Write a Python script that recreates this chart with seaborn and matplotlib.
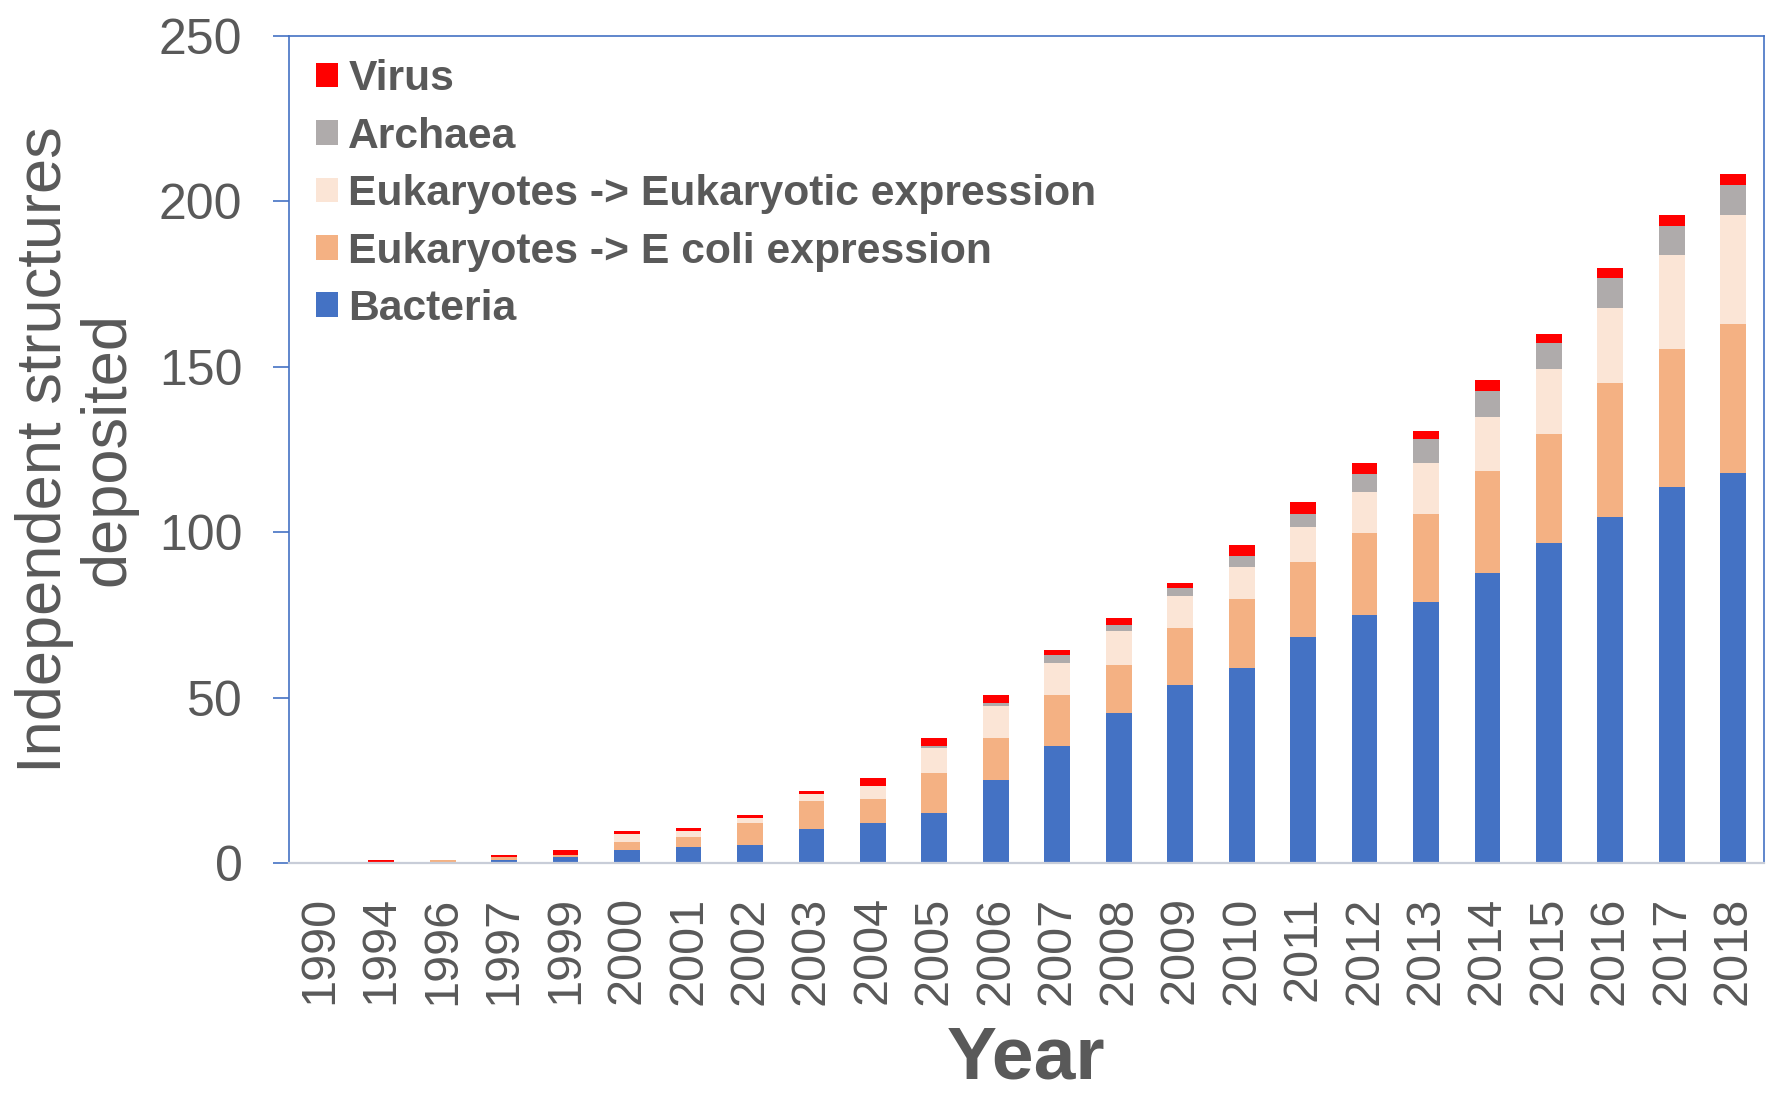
import numpy as np
import pandas as pd
import matplotlib
matplotlib.use("Agg")
import matplotlib.pyplot as plt
from matplotlib.patches import Patch
import seaborn as sns

years = ["1990", "1994", "1996", "1997", "1999", "2000", "2001", "2002", "2003",
         "2004", "2005", "2006", "2007", "2008", "2009", "2010", "2011", "2012",
         "2013", "2014", "2015", "2016", "2017", "2018"]

bacteria = [0, 0, 0, 0.8, 1.7, 4.0, 4.7, 5.5, 10.4, 12.0, 15.2, 25.0, 35.5, 45.2,
            53.9, 58.8, 68.4, 74.9, 79.0, 87.8, 96.7, 104.7, 113.6, 117.8]
euk_ecoli = [0, 0, 1.0, 0.9, 0.8, 2.4, 3.2, 6.5, 8.2, 7.3, 12.1, 12.9, 15.2, 14.5,
             17.0, 20.9, 22.7, 25.0, 26.6, 30.6, 33.1, 40.4, 41.9, 45.0]
euk_euk = [0, 0, 0, 0, 0, 2.4, 1.7, 1.6, 2.4, 4.1, 7.4, 9.7, 9.8, 10.4,
           9.7, 9.9, 10.5, 12.2, 15.4, 16.3, 19.4, 22.7, 28.3, 33.2]
archaea = [0, 0, 0, 0, 0, 0, 0, 0, 0, 0, 0.8, 0.9, 2.4, 1.7,
           2.4, 3.2, 4.0, 5.6, 7.2, 8.1, 8.1, 9.0, 8.9, 8.9]
virus = [0, 0.9, 0, 0.8, 1.5, 0.9, 0.9, 0.9, 0.8, 2.3, 2.4, 2.3, 1.6, 2.4,
         1.6, 3.2, 3.4, 3.3, 2.4, 3.3, 2.5, 3.2, 3.2, 3.3]

series_names = ["Bacteria", "Eukaryotes -> E coli expression",
                "Eukaryotes -> Eukaryotic expression", "Archaea", "Virus"]
series_colors = ["#4472C4", "#F4B183", "#FBE5D6", "#AFABAB", "#FF0000"]

sns.set_style("white")
plt.rcParams["font.family"] = ["Liberation Sans", "DejaVu Sans"]
TXT = "#595959"
BLUE = "#4472C4"

df = pd.DataFrame({"Year": years, "Bacteria": bacteria,
                   "Eukaryotes -> E coli expression": euk_ecoli,
                   "Eukaryotes -> Eukaryotic expression": euk_euk,
                   "Archaea": archaea, "Virus": virus})
cum = df[series_names].cumsum(axis=1)

fig = plt.figure(figsize=(17.71, 10.96), dpi=100)
ax = fig.add_axes([0.1632, 0.2126, 0.99605 - 0.1632, 0.9672 - 0.2126])

# draw cumulative totals from top layer down so lower layers overlay
for name, col in reversed(list(zip(series_names, series_colors))):
    sns.barplot(x=df["Year"], y=cum[name], order=years, color=col, saturation=1,
                width=0.42, ax=ax, edgecolor="none", linewidth=0)

ax.set_xlim(-0.5, len(years) - 0.5)
ax.set_ylim(0, 250)
ax.set_yticks([0, 50, 100, 150, 200, 250])

for s in ["left", "top", "right"]:
    ax.spines[s].set_visible(True)
    ax.spines[s].set_color(BLUE)
    ax.spines[s].set_linewidth(1.2)
ax.spines["bottom"].set_color("#C8CDD8")
ax.spines["bottom"].set_linewidth(1.6)

ax.tick_params(axis="y", which="both", left=True, length=11.5, width=1.2,
               color=BLUE, labelsize=36, labelcolor=TXT, pad=22)
ax.tick_params(axis="x", which="both", bottom=False, length=0,
               labelsize=35, labelcolor=TXT, pad=24, labelrotation=90)

ax.set_xlabel("Year", fontsize=54, fontweight="bold", color=TXT)
ax.xaxis.set_label_coords(0.5, -0.195)
ax.set_ylabel("Independent structures\ndeposited", fontsize=45.5, color=TXT,
              linespacing=1.1)
ax.yaxis.set_label_coords(-0.103, 0.5)

handles = [Patch(facecolor=c, edgecolor="none") for c in series_colors]
leg = ax.legend(handles[::-1], series_names[::-1], loc="upper left",
                bbox_to_anchor=(0.018, 0.972), frameon=False,
                prop={"size": 30.7, "weight": "bold"},
                handlelength=0.52, handleheight=0.52, handletextpad=0.25,
                labelspacing=0.41, borderpad=0, borderaxespad=0)
for t in leg.get_texts():
    t.set_color(TXT)

fig.savefig("out.png", dpi=100)
